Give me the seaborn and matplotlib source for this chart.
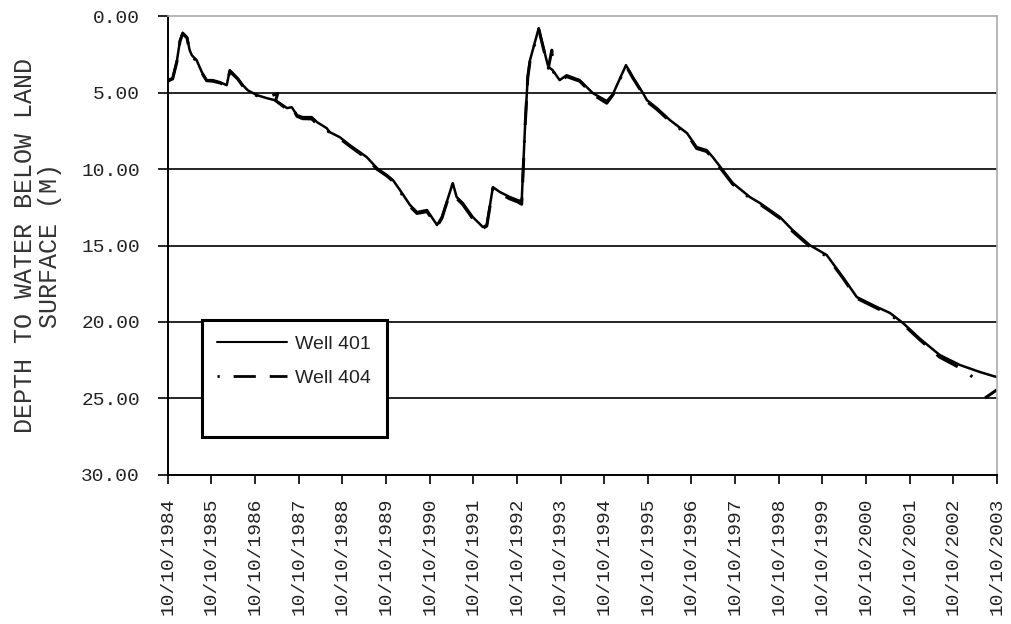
import matplotlib
matplotlib.use("Agg")
import matplotlib.pyplot as plt
from matplotlib.lines import Line2D
import pandas as pd
import seaborn as sns

# tick years (labels read 10/10/YYYY)
years = list(range(1984, 2004))
tick_labels = ["10/10/%d" % y for y in years]
depth_ticks = [0, 5, 10, 15, 20, 25, 30]

# Well 401 - time (years since the 1984 tick) and depth to water (m)
well401_t = [1984.00, 1984.11, 1984.21, 1984.28, 1984.34, 1984.44, 1984.50, 1984.55,
             1984.66, 1984.78, 1984.89, 1985.03, 1985.19, 1985.35, 1985.42, 1985.49,
             1985.60, 1985.72, 1985.83, 1986.04, 1986.27, 1986.45, 1986.60, 1986.73,
             1986.84, 1986.96, 1987.09, 1987.30, 1987.42, 1987.64, 1987.71, 1987.94,
             1988.17, 1988.40, 1988.56, 1988.79, 1989.02, 1989.16, 1989.32, 1989.55,
             1989.71, 1989.94, 1990.17, 1990.28, 1990.42, 1990.53, 1990.62, 1990.76,
             1990.99, 1991.22, 1991.31, 1991.45, 1991.61, 1991.84, 1992.02, 1992.11,
             1992.19, 1992.25, 1992.30, 1992.50, 1992.68, 1992.72, 1992.82, 1992.98,
             1993.14, 1993.44, 1993.74, 1994.06, 1994.20, 1994.50, 1994.66, 1994.89,
             1994.98, 1995.21, 1995.51, 1995.90, 1996.12, 1996.35, 1996.49, 1996.72,
             1996.95, 1997.34, 1997.57, 1997.80, 1998.03, 1998.32, 1998.71, 1999.10,
             1999.47, 1999.79, 2000.25, 2000.55, 2000.85, 2001.24, 2001.69, 2002.15,
             2002.61, 2002.91, 2003.00]
well401_d = [4.18, 4.05, 2.88, 1.57, 1.08, 1.37, 2.22, 2.55,
             2.88, 3.66, 4.18, 4.18, 4.31, 4.51, 3.53, 3.73,
             4.05, 4.51, 4.84, 5.16, 5.36, 5.49, 5.75, 6.01,
             5.95, 6.47, 6.60, 6.60, 6.93, 7.32, 7.58, 7.91,
             8.43, 8.89, 9.22, 9.93, 10.39, 10.72, 11.37, 12.35,
             12.81, 12.68, 13.66, 13.14, 11.90, 10.92, 11.83, 12.22,
             13.14, 13.79, 13.66, 11.18, 11.50, 11.83, 12.03, 12.10,
             7.00, 3.90, 2.88, 0.78, 2.88, 3.30, 3.53, 4.18,
             3.86, 4.18, 5.03, 5.55, 5.10, 3.20, 3.99, 5.03,
             5.49, 6.01, 6.80, 7.65, 8.56, 8.76, 9.22, 10.07,
             10.92, 11.83, 12.22, 12.68, 13.14, 13.99, 14.97, 15.62,
             17.06, 18.37, 19.02, 19.41, 20.07, 21.10, 22.16, 22.81,
             23.27, 23.53, 23.60]

# Well 404 - the record stops in 2002 and resumes for the last reading
well404_t = [1984.00, 1984.11, 1984.21, 1984.28, 1984.34, 1984.44, 1984.50, 1984.55,
             1984.66, 1984.78, 1984.89, 1985.03, 1985.19, 1985.35, 1985.42, 1985.49,
             1985.60, 1985.72, 1985.83, 1986.04, 1986.27, 1986.52, 1986.47, 1986.73,
             1986.84, 1986.96, 1987.09, 1987.30, 1987.42, 1987.64, 1987.71, 1987.94,
             1988.17, 1988.40, 1988.56, 1988.79, 1989.02, 1989.16, 1989.32, 1989.55,
             1989.71, 1989.94, 1990.17, 1990.28, 1990.42, 1990.53, 1990.62, 1990.76,
             1990.99, 1991.22, 1991.31, 1991.45, 1991.61, 1991.84, 1992.02, 1992.11,
             1992.19, 1992.25, 1992.30, 1992.50, 1992.68, 1992.72, 1992.80, 1992.84,
             1992.98, 1993.14, 1993.44, 1993.74, 1994.06, 1994.20, 1994.50, 1994.66,
             1994.89, 1994.98, 1995.21, 1995.51, 1995.90, 1996.12, 1996.35, 1996.49,
             1996.72, 1996.95, 1997.34, 1997.57, 1997.80, 1998.03, 1998.32, 1998.71,
             1999.10, 1999.47, 1999.79, 2000.25, 2000.55, 2000.85, 2001.24, 2001.69,
             2002.15, 2002.54,
             2002.73, 2003.00]
well404_d = [4.25, 4.10, 2.95, 1.62, 1.15, 1.42, 2.30, 2.60,
             2.95, 3.72, 4.22, 4.25, 4.36, 4.55, 3.60, 3.80,
             4.10, 4.58, 4.90, 5.20, 5.30, 5.05, 5.52, 6.08,
             5.90, 6.55, 6.70, 6.72, 7.05, 7.40, 7.65, 8.00,
             8.50, 8.98, 9.30, 10.00, 10.45, 10.80, 11.45, 12.45,
             12.90, 12.78, 13.75, 13.22, 11.98, 11.00, 11.92, 12.32,
             13.25, 13.88, 13.72, 11.25, 11.60, 11.95, 12.15, 12.30,
             7.10, 4.00, 2.95, 0.85, 2.95, 3.40, 2.22, 3.65,
             4.25, 3.95, 4.25, 5.12, 5.69, 5.15, 3.25, 4.05,
             5.10, 5.58, 6.10, 6.88, 7.72, 8.65, 8.85, 9.30,
             10.15, 11.00, 11.90, 12.30, 12.75, 13.22, 14.08, 15.05,
             15.70, 17.12, 18.45, 19.10, 19.50, 20.15, 21.18, 22.30,
             23.00, 23.79,
             24.97, 24.44]
well404_seg = [0] * (len(well404_t) - 2) + [1, 1]

sns.set_style("white")
plt.rcParams["font.family"] = ["Liberation Sans", "DejaVu Sans"]
mono = ["Liberation Mono", "DejaVu Sans Mono"]

df401 = pd.DataFrame({"t": well401_t, "depth": well401_d, "seg": 0})
df404 = pd.DataFrame({"t": well404_t, "depth": well404_d, "seg": well404_seg})

fig = plt.figure(figsize=(10.11, 6.24), dpi=100)
ax = fig.add_axes([0.166, 0.239, 0.82, 0.735])

pattern = (0.8, 5, 8, 5, 8, 5)
sns.lineplot(data=df401, x="t", y="depth", units="seg", estimator=None, sort=False,
             color="black", lw=1.8, ax=ax)
sns.lineplot(data=df404, x="t", y="depth", units="seg", estimator=None, sort=False,
             color="black", lw=2.2, linestyle=(5.8, pattern), ax=ax)

ax.set_xlim(years[0], years[-1])
ax.set_ylim(30, 0)
ax.set_xticks(years)
ax.set_xticklabels(tick_labels, rotation=90, fontsize=14, family=mono)
ax.set_yticks(depth_ticks)
ax.set_yticklabels(["%.2f" % v for v in depth_ticks], fontsize=14, family=mono)
ax.tick_params(axis="both", direction="out", width=1.2, colors="black",
               labelcolor="#222222", left=True, bottom=True)
ax.tick_params(axis="y", length=7, pad=13)
ax.tick_params(axis="x", length=6.5, pad=10)
ax.set_xlabel("")
ax.set_ylabel("DEPTH TO WATER BELOW LAND\nSURFACE (M)", fontsize=18, family=mono,
              color="#333333", labelpad=14, linespacing=1.05)

ax.yaxis.grid(True, color="black", lw=1.2)
ax.xaxis.grid(False)
ax.set_axisbelow(True)
glines = ax.yaxis.get_gridlines()
glines[0].set_visible(False)
glines[-1].set_visible(False)

for side in ["left", "bottom"]:
    ax.spines[side].set_color("black")
    ax.spines[side].set_linewidth(1.4)
for side in ["top", "right"]:
    ax.spines[side].set_color("#aaaaaa")
    ax.spines[side].set_linewidth(1.2)

handles = [Line2D([], [], color="black", lw=1.5),
           Line2D([], [], color="black", lw=2.0, linestyle=(0, pattern)),
           Line2D([], [], color="none")]
leg = ax.legend(handles, ["Well 401", "Well 404", " "], loc="lower left",
                bbox_to_anchor=(0.041, 0.083), borderaxespad=0, fontsize=14,
                handlelength=3.6, handletextpad=0.4, labelspacing=0.85, borderpad=0.8,
                fancybox=False, framealpha=1, edgecolor="black")
leg.get_frame().set_linewidth(2.2)
for t in leg.get_texts():
    t.set_color("#222222")

fig.savefig("out.png", dpi=100)
